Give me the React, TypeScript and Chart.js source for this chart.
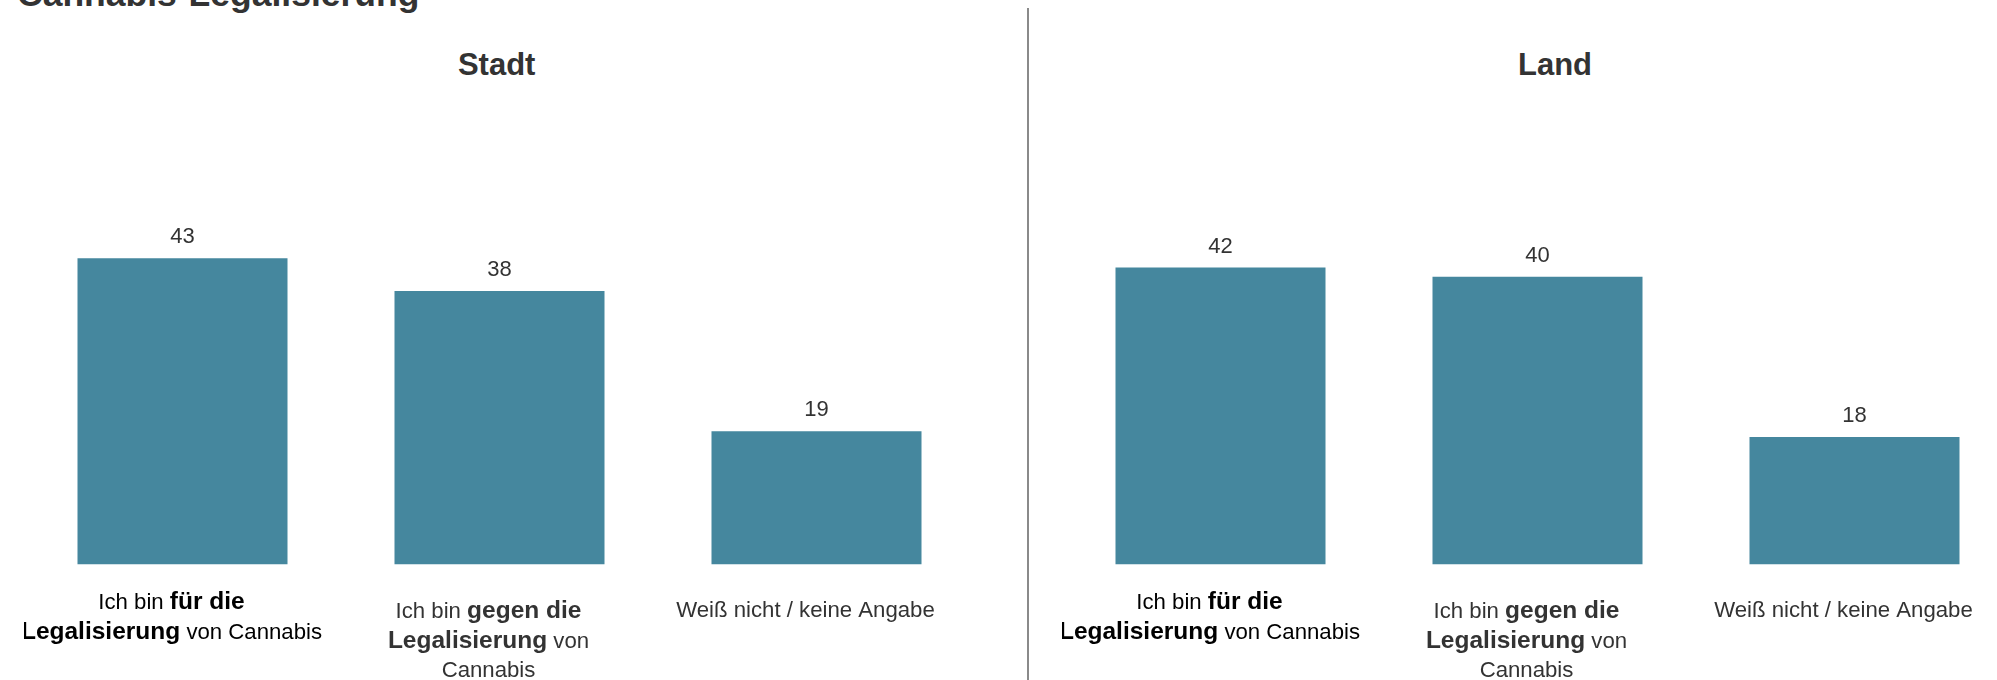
import React, { useEffect, useRef } from "react";
import { Chart, registerables } from "chart.js";

Chart.register(...registerables);

// ---------- data ----------
const MAIN_TITLE = "Cannabis-Legalisierung";
const PANEL_TITLES = ["Stadt", "Land"];
const CATEGORIES = [
  "Ich bin **für die**\n**Legalisierung** von Cannabis",
  "Ich bin **gegen die**\n**Legalisierung** von\nCannabis",
  "Weiß nicht / keine Angabe",
];
// values (labels show them rounded)
const STADT_VALUES = [43, 38.4, 18.7];
const LAND_VALUES = [41.7, 40.4, 17.9];
const Y_MIN = 0;
const Y_MAX = 60;

// ---------- style ----------
const FONT = "'Liberation Sans', Arial, Helvetica, sans-serif";
const BAR_COLOR = "#45879e";
const REG_FONT = `22.2px ${FONT}`;
const BOLD_FONT = `bold 24.5px ${FONT}`;
const VALUE_FONT = `22px ${FONT}`;
const LABEL_COLORS = ["#000000", "#333333", "#333333"];
const LABEL_BASELINE_DY = [44.8, 53.8, 52.2];
const LABEL_LINE_H = 29.5;
const LABEL_DX = -11;
const VALUE_GAP = 15;

type Seg = { t: string; b: boolean; w?: number };

function parseLine(line: string): Seg[] {
  const parts = line.split("**");
  const segs: Seg[] = [];
  parts.forEach((p, i) => {
    if (p.length) segs.push({ t: p, b: i % 2 === 1 });
  });
  return segs;
}

const labelsPlugin = {
  id: "richLabels",
  afterDatasetsDraw(chart: any) {
    const ctx: CanvasRenderingContext2D = chart.ctx;
    const xScale = chart.scales.x;
    const bottom = chart.chartArea.bottom;
    const meta = chart.getDatasetMeta(0);
    const ds = chart.data.datasets[0];
    ctx.save();
    // value labels
    ctx.font = VALUE_FONT;
    ctx.fillStyle = "#333333";
    ctx.textAlign = "center";
    ctx.textBaseline = "alphabetic";
    meta.data.forEach((bar: any, i: number) => {
      ctx.fillText(String(Math.round(ds.data[i])), bar.x, bar.y - VALUE_GAP);
    });
    // category labels (rich text)
    ctx.textAlign = "left";
    (chart.data.labels as string[]).forEach((label, i) => {
      const cx = xScale.getPixelForValue(i) + LABEL_DX;
      label.split("\n").forEach((line, li) => {
        const segs = parseLine(line);
        let total = 0;
        segs.forEach((s) => {
          ctx.font = s.b ? BOLD_FONT : REG_FONT;
          s.w = ctx.measureText(s.t).width;
          total += s.w;
        });
        let x = cx - total / 2;
        const y = bottom + LABEL_BASELINE_DY[i] + li * LABEL_LINE_H;
        segs.forEach((s) => {
          ctx.font = s.b ? BOLD_FONT : REG_FONT;
          ctx.fillStyle = LABEL_COLORS[i];
          ctx.fillText(s.t, x, y);
          x += s.w || 0;
        });
      });
    });
    ctx.restore();
  },
};

function BarPanel({ values, left }: { values: number[]; left: number }) {
  const ref = useRef<HTMLCanvasElement | null>(null);
  useEffect(() => {
    if (!ref.current) return;
    const chart = new Chart(ref.current, {
      type: "bar",
      data: {
        labels: CATEGORIES,
        datasets: [
          {
            data: values,
            backgroundColor: BAR_COLOR,
            borderWidth: 0,
            categoryPercentage: 0.6625,
            barPercentage: 1,
          },
        ],
      },
      options: {
        animation: false,
        responsive: false,
        maintainAspectRatio: false,
        devicePixelRatio: 1,
        layout: { padding: { top: 137.3, bottom: 115.5, left: 0, right: 0 } },
        plugins: {
          legend: { display: false },
          tooltip: { enabled: false },
          title: { display: false },
        },
        scales: {
          x: { display: false, offset: true, grid: { display: false } },
          y: { display: false, min: Y_MIN, max: Y_MAX, grid: { display: false } },
        },
      },
      plugins: [labelsPlugin],
    } as any);
    return () => chart.destroy();
  }, [values]);
  return (
    <canvas
      ref={ref}
      width={951}
      height={680}
      style={{ position: "absolute", left, top: 0, width: 951, height: 680 }}
    />
  );
}

export default function App() {
  return (
    <div
      style={{
        position: "fixed",
        left: 0,
        top: 0,
        width: 1997,
        height: 680,
        overflow: "hidden",
        background: "#ffffff",
        fontFamily: FONT,
      }}
    >
      <div
        style={{
          position: "absolute",
          left: 17,
          top: -23,
          fontSize: 35.5,
          lineHeight: "35.5px",
          fontWeight: "bold",
          color: "#333333",
          whiteSpace: "nowrap",
        }}
      >
        {MAIN_TITLE}
      </div>
      <div
        style={{
          position: "absolute",
          left: 496.7 - 150,
          width: 300,
          top: 48.8,
          fontSize: 31,
          lineHeight: "31px",
          fontWeight: "bold",
          color: "#333333",
          textAlign: "center",
        }}
      >
        {PANEL_TITLES[0]}
      </div>
      <div
        style={{
          position: "absolute",
          left: 1555 - 150,
          width: 300,
          top: 48.8,
          fontSize: 31,
          lineHeight: "31px",
          fontWeight: "bold",
          color: "#333333",
          textAlign: "center",
        }}
      >
        {PANEL_TITLES[1]}
      </div>
      <BarPanel values={STADT_VALUES} left={24} />
      <BarPanel values={LAND_VALUES} left={1062} />
      <div
        style={{
          position: "absolute",
          left: 1027,
          top: 8,
          width: 2,
          height: 672,
          background: "#8a8a8a",
        }}
      />
    </div>
  );
}
